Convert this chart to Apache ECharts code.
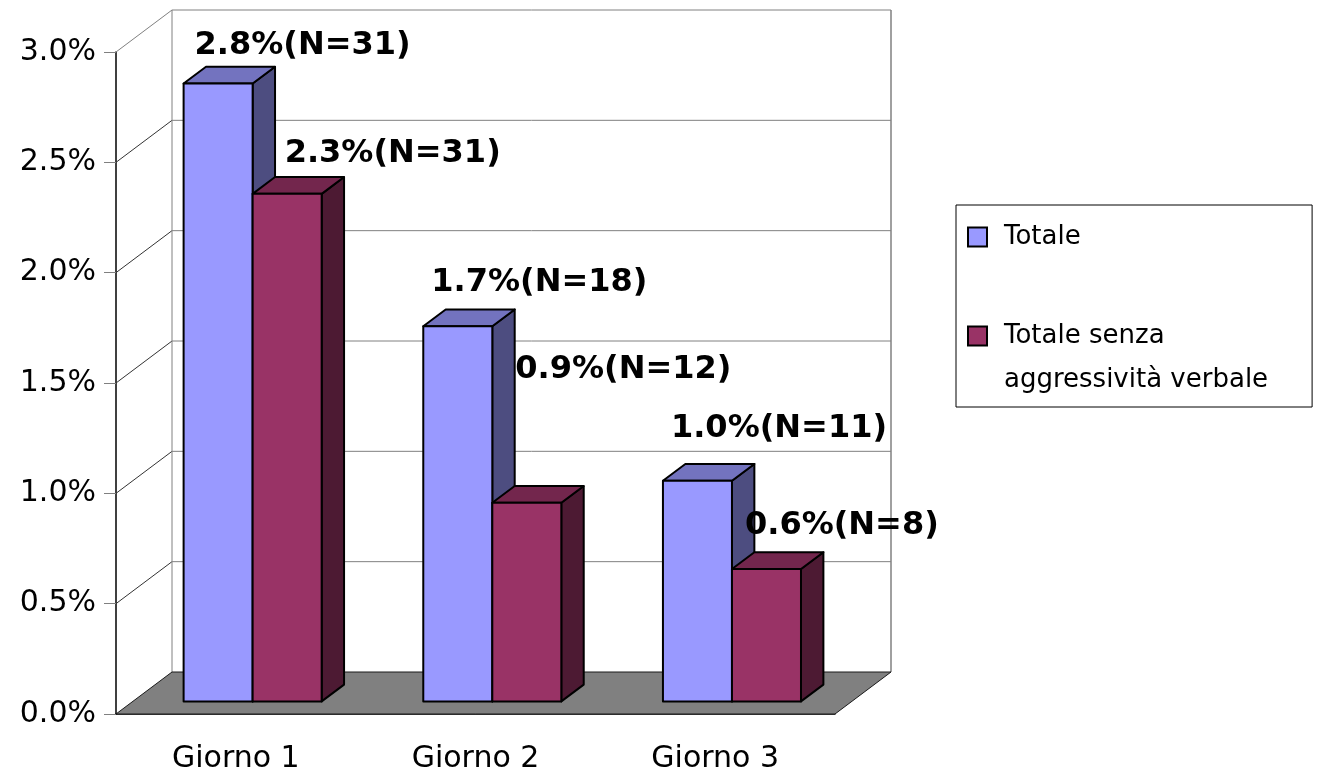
<!DOCTYPE html>
<html>
<head>
<meta charset="utf-8">
<style>
  html, body { margin: 0; padding: 0; background: #fff; }
  #chart { width: 1317px; height: 774px; }
</style>
<script src="https://cdn.jsdelivr.net/npm/echarts@6/dist/echarts.min.js"></script>
</head>
<body>
<div id="chart"></div>
<script>
// data
const days = ['Giorno 1', 'Giorno 2', 'Giorno 3']
const totale = [2.8, 1.7, 1.0]
const totaleN = [31, 18, 11]
const senzaVerbale = [2.3, 0.9, 0.6]
const senzaVerbaleN = [31, 12, 8]
const yTicks = [0, 0.5, 1.0, 1.5, 2.0, 2.5, 3.0]

const SERIES_NAMES = ['Totale', 'Totale senza\naggressività verbale']

// 3d look: back wall sits this far (px) behind the front plane
const DX = 56
const DY = -42
const BAR_FRONT = 0.3 // front face of bars, as fraction of depth
const BAR_DEPTH = 0.4
const BAR_WIDTH = 0.288 // of one category

const FACES = [
    { front: '#9999ff', top: '#7373bf', side: '#4d4d80' },
    { front: '#993366', top: '#73264d', side: '#4d1a33' },
]

// label nudge from the bar's front top-left corner
const LABEL_NUDGE = [
    [[11, -38], [8, -44], [8, -52]],
    [[32, -40], [23, -133], [13, -43]],
]

const FONT = '"DejaVu Sans", Verdana, sans-serif'

const chart = echarts.init(document.getElementById('chart'), null, { renderer: 'canvas' })

function renderGridLine(params, api) {
    const cs = params.coordSys
    const v = api.value(1)
    if (v === 0) return null
    const y = api.coord([0, v])[1]
    const xl = cs.x
    const xr = cs.x + cs.width
    return {
        type: 'group',
        children: [
            {
                type: 'line',
                shape: { x1: xl, y1: y, x2: xl + DX, y2: y + DY },
                style: { stroke: v === yTicks[yTicks.length - 1] ? '#808080' : '#333', lineWidth: 1 },
            },
            {
                type: 'line',
                shape: { x1: xl + DX, y1: y + DY, x2: xr + DX, y2: y + DY },
                style: { stroke: '#808080', lineWidth: 1 },
            },
        ],
    }
}

function renderWalls(params, api) {
    const cs = params.coordSys
    const xl = cs.x
    const xr = cs.x + cs.width
    const yb = cs.y + cs.height
    const yt = cs.y
    return {
        type: 'group',
        children: [
            {
                type: 'line',
                shape: { x1: xl + DX, y1: yt + DY, x2: xl + DX, y2: yb + DY },
                style: { stroke: '#808080', lineWidth: 1 },
            },
            {
                type: 'line',
                shape: { x1: xr + DX, y1: yt + DY, x2: xr + DX, y2: yb + DY },
                style: { stroke: '#808080', lineWidth: 1.5 },
            },
            {
                type: 'polygon',
                shape: { points: [[xl, yb], [xr, yb], [xr + DX, yb + DY], [xl + DX, yb + DY]] },
                style: { fill: '#808080', stroke: '#1a1a1a', lineWidth: 1 },
            },
        ],
    }
}

function makeBarRenderer(s, values, counts) {
    return function (params, api) {
        const i = api.value(0)
        const v = api.value(1)
        const base = api.coord([i, 0])
        const top = api.coord([i, v])
        const bw = api.size([1, 0])[0] * BAR_WIDTH
        const fx = DX * BAR_FRONT
        const fy = DY * BAR_FRONT
        const dx = DX * BAR_DEPTH
        const dy = DY * BAR_DEPTH
        const x0 = base[0] + (s === 0 ? -bw : 0) + fx
        const x1 = x0 + bw
        const yb = base[1] + fy
        const yt = top[1] + fy
        const c = FACES[s]
        const edge = { stroke: '#000', lineWidth: 2, lineJoin: 'round' }
        const nudge = LABEL_NUDGE[s][i]
        return {
            type: 'group',
            children: [
                {
                    type: 'polygon',
                    shape: { points: [[x1, yt], [x1 + dx, yt + dy], [x1 + dx, yb + dy], [x1, yb]] },
                    style: Object.assign({ fill: c.side }, edge),
                },
                {
                    type: 'polygon',
                    shape: { points: [[x0, yt], [x1, yt], [x1 + dx, yt + dy], [x0 + dx, yt + dy]] },
                    style: Object.assign({ fill: c.top }, edge),
                },
                {
                    type: 'rect',
                    shape: { x: x0, y: yt, width: bw, height: yb - yt },
                    style: Object.assign({ fill: c.front }, edge),
                },
                {
                    type: 'text',
                    x: x0 + nudge[0],
                    y: yt + nudge[1],
                    z2: 100,
                    style: {
                        text: values[i].toFixed(1) + '%(N=' + counts[i] + ')',
                        fontFamily: FONT,
                        fontWeight: 'bold',
                        fontSize: 32,
                        fill: '#000',
                        align: 'left',
                        verticalAlign: 'middle',
                    },
                },
            ],
        }
    }
}

const option = {
    animation: false,
    backgroundColor: '#fff',
    grid: { left: 116, top: 52, width: 719, height: 662, containLabel: false },
    legend: {
        orient: 'vertical',
        left: 956,
        top: 205,
        padding: [10, 44, 5, 11],
        itemGap: 11,
        itemWidth: 19,
        itemHeight: 19,
        icon: 'rect',
        selectedMode: false,
        borderColor: '#000',
        borderWidth: 1,
        itemStyle: { borderColor: '#000', borderWidth: 2 },
        textStyle: { fontFamily: FONT, fontSize: 26, lineHeight: 44, color: '#000', padding: [0, 0, 0, 12] },
        // blank first line keeps the icon level with "Totale senza"
        formatter: (name) => (name.indexOf('\n') >= 0 ? '\u00a0\n' + name : name),
        data: SERIES_NAMES,
    },
    xAxis: {
        type: 'category',
        data: days,
        boundaryGap: true,
        axisLine: { lineStyle: { color: '#000', width: 1.5 } },
        axisTick: { length: 10, lineStyle: { color: '#000' } },
        axisLabel: { fontFamily: FONT, fontSize: 30, color: '#000', margin: 30 },
        splitLine: { show: false },
    },
    yAxis: {
        type: 'value',
        min: 0,
        max: 3,
        interval: 0.5,
        axisLine: { show: true, lineStyle: { color: '#000', width: 1.5 } },
        axisTick: { show: true, length: 12, lineStyle: { color: '#808080' } },
        axisLabel: {
            fontFamily: FONT,
            fontSize: 30,
            color: '#000',
            margin: 20,
            formatter: (v) => v.toFixed(1) + '%',
        },
        splitLine: { show: false },
    },
    series: [
        {
            type: 'custom',
            name: 'grid',
            z: 1,
            silent: true,
            renderItem: renderGridLine,
            data: yTicks.map((v) => [0, v]),
        },
        {
            type: 'custom',
            name: 'walls',
            z: 2,
            silent: true,
            renderItem: renderWalls,
            data: [[0, 0]],
        },
        {
            type: 'custom',
            name: SERIES_NAMES[0],
            z: 3,
            itemStyle: { color: FACES[0].front },
            renderItem: makeBarRenderer(0, totale, totaleN),
            data: totale.map((v, i) => [i, v]),
        },
        {
            type: 'custom',
            name: SERIES_NAMES[1],
            z: 4,
            itemStyle: { color: FACES[1].front },
            renderItem: makeBarRenderer(1, senzaVerbale, senzaVerbaleN),
            data: senzaVerbale.map((v, i) => [i, v]),
        },
    ],
}

chart.setOption(option)
</script>
</body>
</html>
